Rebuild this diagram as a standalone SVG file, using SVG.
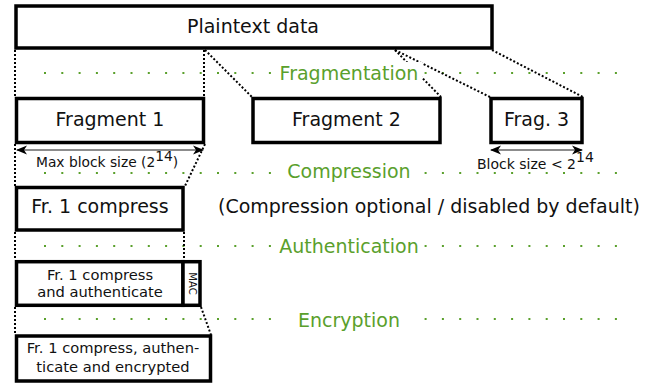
<svg xmlns="http://www.w3.org/2000/svg" width="667" height="386" viewBox="0 0 667 386">
<style>
.box{fill:#fff;stroke:#000;stroke-width:3.5}
.t{font-family:"DejaVu Sans",sans-serif;fill:#111}
.big{font-size:19px;text-anchor:middle}
.sm{font-size:14.7px;text-anchor:middle}
.lbl{font-family:"DejaVu Sans",sans-serif;font-size:19px;fill:#5aa02c;text-anchor:middle}
.gd{stroke:#5aa02c;stroke-width:2;stroke-dasharray:2 15.3;fill:none}
.bd{stroke:#000;stroke-width:2;stroke-dasharray:2 2;fill:none}
.ar{stroke:#666;stroke-width:1.5;fill:none;marker-start:url(#ah);marker-end:url(#ah)}
</style>
<defs>
<marker id="ah" viewBox="-10 -5 12 10" refX="0" refY="0" markerWidth="12" markerHeight="10" markerUnits="userSpaceOnUse" orient="auto-start-reverse">
<path d="M1,0 L-10,-4.5 L-7,0 L-10,4.5 Z" fill="#000"/>
</marker>
</defs>
<g id="separators">
<line class="gd" x1="44" y1="73" x2="620" y2="73"/>
<line class="gd" x1="44" y1="173" x2="620" y2="173"/>
<line class="gd" x1="44" y1="246" x2="620" y2="246"/>
<line class="gd" x1="44" y1="319" x2="620" y2="319"/>
</g>
<g id="connectors">
<line class="bd" x1="15" y1="50" x2="15" y2="97"/>
<line class="bd" x1="204" y1="50" x2="204" y2="97"/>
<line class="bd" x1="205" y1="50" x2="252" y2="97"/>
<line class="bd" x1="395" y1="50" x2="441" y2="97"/>
<line class="bd" x1="395" y1="50" x2="490" y2="97"/>
<line class="bd" x1="492" y1="50" x2="583" y2="97"/>
<line class="bd" x1="15" y1="144" x2="15" y2="186"/>
<line class="bd" x1="205" y1="144" x2="185" y2="186"/>
<line class="bd" x1="15" y1="232" x2="15" y2="260"/>
<line class="bd" x1="184" y1="232" x2="184" y2="260"/>
<line class="bd" x1="15" y1="307" x2="15" y2="335"/>
<line class="bd" x1="201" y1="307" x2="211" y2="335"/>
</g>
<g id="stage-labels">
<rect x="276" y="62" width="146" height="22" fill="#fff"/>
<text class="lbl" x="349" y="80">Fragmentation</text>
<rect x="276" y="162" width="146" height="22" fill="#fff"/>
<text class="lbl" x="349" y="178">Compression</text>
<rect x="276" y="235" width="146" height="22" fill="#fff"/>
<text class="lbl" x="349" y="253">Authentication</text>
<rect x="276" y="308" width="146" height="22" fill="#fff"/>
<text class="lbl" x="349" y="327">Encryption</text>
</g>
<g id="plaintext">
<rect class="box" x="16" y="6" width="476" height="42"/>
<text class="t big" x="253" y="33">Plaintext data</text>
</g>
<g id="fragment1">
<rect class="box" x="16.5" y="98.5" width="187" height="44"/>
<text class="t big" x="110" y="126">Fragment 1</text>
</g>
<g id="fragment2">
<rect class="box" x="253" y="98.5" width="187" height="44"/>
<text class="t big" x="346.5" y="126">Fragment 2</text>
</g>
<g id="fragment3">
<rect class="box" x="491" y="98.5" width="91" height="44"/>
<text class="t big" x="536.5" y="126">Frag. 3</text>
</g>
<g id="size-notes">
<line class="ar" x1="17" y1="150" x2="203" y2="150"/>
<text class="t" font-size="13.8" x="36" y="167">Max block size (2<tspan dy="-6">14</tspan><tspan dy="6">)</tspan></text>
<line class="ar" x1="491" y1="150" x2="582" y2="150"/>
<text class="t" font-size="14" x="477" y="169">Block size &lt; 2<tspan dy="-7">14</tspan></text>
</g>
<g id="compress">
<rect class="box" x="16.5" y="187.5" width="166.5" height="42.5"/>
<text class="t big" x="100" y="213">Fr. 1 compress</text>
</g>
<text class="t" font-size="19" x="218" y="213">(Compression optional / disabled by default)</text>
<g id="authenticate">
<rect class="box" x="16.5" y="261.7" width="166.5" height="43.6"/>
<text class="t sm" x="100" y="280">Fr. 1 compress</text>
<text class="t sm" x="100" y="297">and authenticate</text>
</g>
<g id="mac">
<rect class="box" x="183" y="261.7" width="17" height="43.6"/>
<text class="t" font-size="10" text-anchor="middle" transform="translate(188.5,283.5) rotate(90)">MAC</text>
</g>
<g id="encrypted">
<rect class="box" x="16.5" y="336" width="194" height="45"/>
<text class="t sm" x="113" y="353">Fr. 1 compress, authen-</text>
<text class="t sm" x="113" y="372">ticate and encrypted</text>
</g>
</svg>
